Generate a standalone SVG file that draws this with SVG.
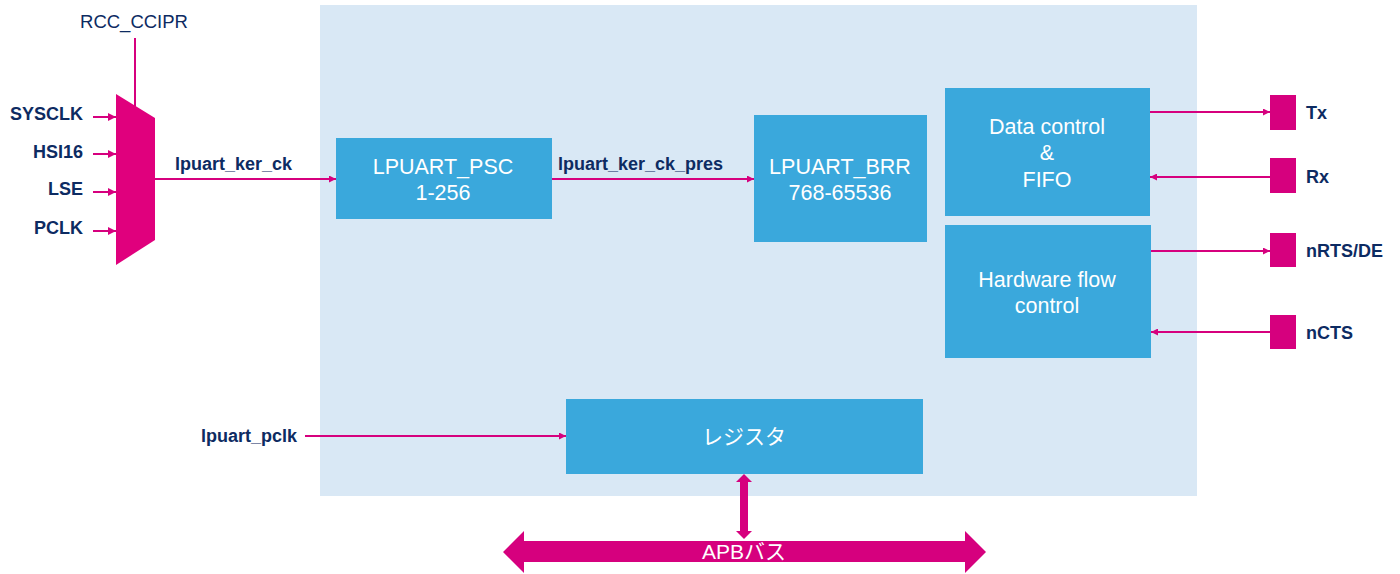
<svg xmlns="http://www.w3.org/2000/svg" width="1400" height="574" viewBox="0 0 1400 574">
<style>
.blk{fill:#3aa8dc}
.bt{font-family:"Liberation Sans",Arial,sans-serif;font-size:21.5px;fill:#ffffff;text-anchor:middle}
.jt{font-family:"Liberation Sans","Noto Sans CJK JP",sans-serif;font-size:21px;fill:#ffffff;text-anchor:middle}
.lb{font-family:"Liberation Sans",Arial,sans-serif;font-size:18px;font-weight:bold;fill:#0d2b62}
.rt{font-family:"Liberation Sans",Arial,sans-serif;font-size:18.5px;fill:#0d2b62;text-anchor:middle}
.ln{stroke:#d6007e;stroke-width:2;fill:none}
.pad{fill:#d6007e}
</style>
<defs>
<marker id="ah" viewBox="0 0 10 10" refX="10" refY="5" markerWidth="8" markerHeight="8" markerUnits="userSpaceOnUse" orient="auto">
<path d="M0,0 L10,5 L0,10 Z" fill="#d6007e"/>
</marker>
<marker id="ahb" viewBox="0 0 10 10" refX="10" refY="5" markerWidth="7" markerHeight="7" markerUnits="userSpaceOnUse" orient="auto">
<path d="M0,0 L10,5 L0,10 Z" fill="#d6007e"/>
</marker>
</defs>
<rect width="1400" height="574" fill="#ffffff"/>
<rect id="lpuart-area" x="320" y="5" width="877" height="491" fill="#d9e8f5"/>

<g id="connectors">
<line class="ln" x1="135" y1="38" x2="135" y2="108"/>
<line class="ln" x1="93" y1="117" x2="116" y2="117" marker-end="url(#ah)"/>
<line class="ln" x1="93" y1="154" x2="116" y2="154" marker-end="url(#ah)"/>
<line class="ln" x1="93" y1="192" x2="116" y2="192" marker-end="url(#ah)"/>
<line class="ln" x1="93" y1="231" x2="116" y2="231" marker-end="url(#ah)"/>
<line class="ln" x1="155" y1="179" x2="336" y2="179" marker-end="url(#ahb)"/>
<line class="ln" x1="552" y1="179" x2="754" y2="179" marker-end="url(#ahb)"/>
<line class="ln" x1="1150" y1="112" x2="1270" y2="112" marker-end="url(#ahb)"/>
<line class="ln" x1="1270" y1="177" x2="1150" y2="177" marker-end="url(#ahb)"/>
<line class="ln" x1="1151" y1="251" x2="1270" y2="251" marker-end="url(#ahb)"/>
<line class="ln" x1="1270" y1="332" x2="1151" y2="332" marker-end="url(#ahb)"/>
<line class="ln" x1="305" y1="436" x2="566" y2="436" marker-end="url(#ahb)"/>
<path d="M744,474 L752,482 L748,482 L748,531 L752,531 L744,539 L736,531 L740,531 L740,482 L736,482 Z" fill="#d6007e"/>
</g>

<g id="mux">
<polygon points="116,94 155,118 155,240 116,265" fill="#e0007d"/>
<text class="rt" x="134" y="28">RCC_CCIPR</text>
<text class="lb" x="83" y="120" text-anchor="end">SYSCLK</text>
<text class="lb" x="83" y="158" text-anchor="end">HSI16</text>
<text class="lb" x="83" y="195" text-anchor="end">LSE</text>
<text class="lb" x="83" y="234" text-anchor="end">PCLK</text>
<text class="lb" x="175" y="170">lpuart_ker_ck</text>
</g>

<g id="psc">
<rect class="blk" x="336" y="138" width="216" height="81"/>
<text class="bt" x="443" y="174">LPUART_PSC</text>
<text class="bt" x="443" y="200">1-256</text>
</g>
<text class="lb" x="558" y="170">lpuart_ker_ck_pres</text>

<g id="brr">
<rect class="blk" x="754" y="115" width="173" height="127"/>
<text class="bt" x="840" y="174">LPUART_BRR</text>
<text class="bt" x="840" y="200">768-65536</text>
</g>

<g id="data-control">
<rect class="blk" x="945" y="88" width="205" height="128"/>
<text class="bt" x="1047" y="134">Data control</text>
<text class="bt" x="1047" y="160">&amp;</text>
<text class="bt" x="1047" y="187">FIFO</text>
</g>

<g id="hw-flow">
<rect class="blk" x="945" y="225" width="206" height="133"/>
<text class="bt" x="1047" y="287">Hardware flow</text>
<text class="bt" x="1047" y="313">control</text>
</g>

<g id="tx"><rect class="pad" x="1270" y="95" width="26" height="35"/><text class="lb" x="1306" y="119">Tx</text></g>
<g id="rx"><rect class="pad" x="1270" y="158" width="26" height="35"/><text class="lb" x="1306" y="183">Rx</text></g>
<g id="nrts"><rect class="pad" x="1270" y="233" width="26" height="34"/><text class="lb" x="1306" y="257">nRTS/DE</text></g>
<g id="ncts"><rect class="pad" x="1270" y="315" width="26" height="34"/><text class="lb" x="1306" y="339">nCTS</text></g>

<g id="register">
<rect class="blk" x="566" y="399" width="357" height="75"/>
<text class="jt" x="744" y="444">レジスタ</text>
</g>
<text class="lb" x="297" y="442" text-anchor="end">lpuart_pclk</text>

<g id="apb-bus">
<polygon points="503,552 524,531 524,541 965,541 965,531 986,552 965,573 965,562 524,562 524,573" fill="#d6007e"/>
<text class="jt" x="744" y="559">APBバス</text>
</g>
</svg>
